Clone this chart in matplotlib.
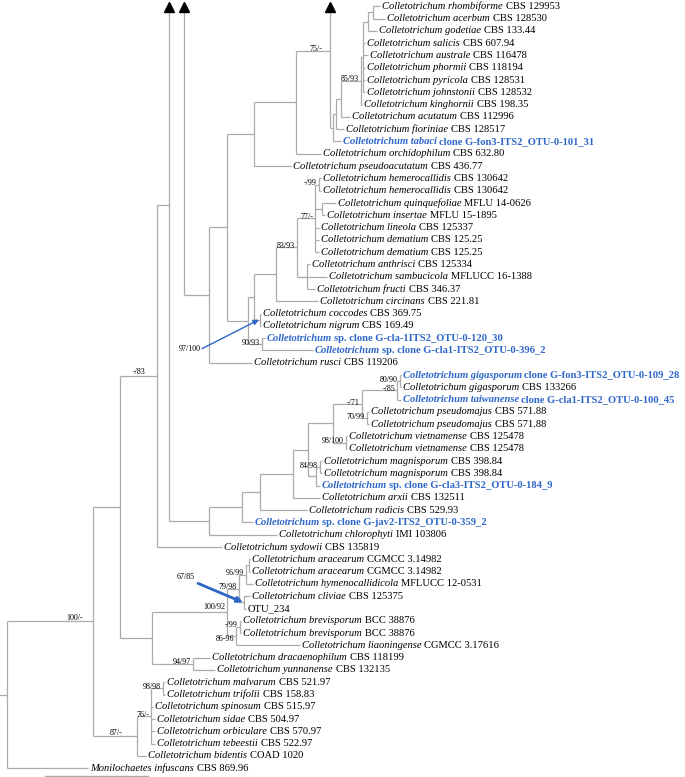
import matplotlib.pyplot as plt

# ---- leaves, top to bottom: name (italic), strain / clone id, kind, tip depth ----
leaf_names = [
    "Colletotrichum rhombiforme", "Colletotrichum acerbum", "Colletotrichum godetiae",
    "Colletotrichum salicis", "Colletotrichum australe", "Colletotrichum phormii",
    "Colletotrichum pyricola", "Colletotrichum johnstonii", "Colletotrichum kinghornii",
    "Colletotrichum acutatum", "Colletotrichum fioriniae", "Colletotrichum tabaci",
    "Colletotrichum orchidophilum", "Colletotrichum pseudoacutatum",
    "Colletotrichum hemerocallidis", "Colletotrichum hemerocallidis",
    "Colletotrichum quinquefoliae", "Colletotrichum insertae", "Colletotrichum lineola",
    "Colletotrichum dematium", "Colletotrichum dematium", "Colletotrichum anthrisci",
    "Colletotrichum sambucicola", "Colletotrichum fructi", "Colletotrichum circinans",
    "Colletotrichum coccodes", "Colletotrichum nigrum", "Colletotrichum",
    "Colletotrichum", "Colletotrichum rusci", "Colletotrichum gigasporum",
    "Colletotrichum gigasporum", "Colletotrichum taiwanense", "Colletotrichum pseudomajus",
    "Colletotrichum pseudomajus", "Colletotrichum vietnamense", "Colletotrichum vietnamense",
    "Colletotrichum magnisporum", "Colletotrichum magnisporum", "Colletotrichum",
    "Colletotrichum arxii", "Colletotrichum radicis", "Colletotrichum",
    "Colletotrichum chlorophyti", "Colletotrichum sydowii", "Colletotrichum aracearum",
    "Colletotrichum aracearum", "Colletotrichum hymenocallidicola", "Colletotrichum cliviae",
    "", "Colletotrichum brevisporum", "Colletotrichum brevisporum",
    "Colletotrichum liaoningense", "Colletotrichum dracaenophilum",
    "Colletotrichum yunnanense", "Colletotrichum malvarum", "Colletotrichum trifolii",
    "Colletotrichum spinosum", "Colletotrichum sidae", "Colletotrichum orbiculare",
    "Colletotrichum tebeestii", "Colletotrichum bidentis", "Monilochaetes infuscans",
]
leaf_strains = [
    "CBS 129953", "CBS 128530", "CBS 133.44", "CBS 607.94", "CBS 116478", "CBS 118194",
    "CBS 128531", "CBS 128532", "CBS 198.35", "CBS 112996", "CBS 128517",
    "clone G-fon3-ITS2_OTU-0-101_31", "CBS 632.80", "CBS 436.77", "CBS 130642",
    "CBS 130642", "MFLU 14-0626", "MFLU 15-1895", "CBS 125337", "CBS 125.25", "CBS 125.25",
    "CBS 125334", "MFLUCC 16-1388", "CBS 346.37", "CBS 221.81", "CBS 369.75", "CBS 169.49",
    "sp. clone G-cla-1ITS2_OTU-0-120_30", "sp. clone G-cla1-ITS2_OTU-0-396_2",
    "CBS 119206", "clone G-fon3-ITS2_OTU-0-109_28", "CBS 133266",
    "clone G-cla1-ITS2_OTU-0-100_45", "CBS 571.88", "CBS 571.88", "CBS 125478",
    "CBS 125478", "CBS 398.84", "CBS 398.84", "sp. clone G-cla3-ITS2_OTU-0-184_9",
    "CBS 132511", "CBS 529.93", "sp. clone G-jav2-ITS2_OTU-0-359_2", "IMI 103806",
    "CBS 135819", "CGMCC 3.14982", "CGMCC 3.14982", "MFLUCC 12-0531", "CBS 125375",
    "OTU_234", "BCC 38876", "BCC 38876", "CGMCC 3.17616", "CBS 118199", "CBS 132135",
    "CBS 521.97", "CBS 158.83", "CBS 515.97", "CBS 504.97", "CBS 570.97", "CBS 522.97",
    "COAD 1020", "CBS 869.96",
]
clone_leaves = [11, 27, 28, 30, 32, 39, 42]
leaf_depth = [
    380, 385, 377, 365, 368, 365, 365, 365, 362, 350, 344, 341, 321, 291,
    321, 321, 336, 325, 319, 319, 319, 310, 327, 315, 318,
    261, 261, 265, 313, 252,
    401, 401, 401, 369, 369, 347, 347, 322, 322, 320, 320, 307, 253, 277, 222,
    250, 250, 253, 250, 246, 241, 241, 300, 210, 215,
    165, 165, 153, 155, 155, 155, 146, 88,
]

# ---- internal nodes: name, depth, children (int = leaf, str = node, 'hidden' = cut off above) ----
node_names = ["RA", "G", "P", "N85", "NAC", "NFI", "NTA", "N330", "N75", "N254a",
              "HH", "QI", "P77", "AS", "N297", "N276", "CN", "N254b", "CL", "N248",
              "N227", "N209", "N184", "G1", "G2", "PM", "G3", "VP", "G4", "MP", "M2",
              "G5", "G6", "G7", "G8", "G9", "N169", "N157", "AR", "AR2", "CO", "N79",
              "BR", "N86", "N100", "N94", "N152", "N120", "ML", "N76", "N87", "N93",
              "ROOT"]
node_depth = [373, 368, 363, 361, 341, 336, 333, 330, 296, 254,
              319, 322, 315, 307, 297, 276, 260, 254, 262, 248,
              227, 209, 184, 400, 397, 367, 362, 346, 333, 320, 316,
              308, 293, 260, 242, 209, 169, 157, 249, 246, 244, 239,
              240, 236, 227, 193, 152, 120, 163, 151, 137, 93, 7]
node_children = [
    [0, 1], ["RA", 2], ["G", 3, 4, 5, 6, 7], ["P", 8], ["N85", 9], ["NAC", 10],
    ["NFI", 11], ["hidden", "NTA"], ["N330", 12], ["N75", 13],
    [14, 15], [16, 17], ["HH", "QI", 18, 19, 20], [21, 22, 23], ["P77", "AS"],
    ["N297", 24], [25, 26], ["N276", "CN"], [27, 28], ["N254b", "CL"],
    ["N254a", "N248"], ["N227", 29], ["hidden", "N209"],
    [30, 31], ["G1", 32], [33, 34], ["G2", "PM"], [35, 36], ["G3", "VP"], [37, 38],
    ["MP", 39], ["G4", "M2"], ["G5", 40], ["G6", 41], ["G7", 42], ["G8", 43],
    ["hidden", "G9"], ["N169", 44], [45, 46], ["AR", 47], [48, 49], ["AR2", "CO"],
    [50, 51], ["BR", 52], ["N79", "N86"], [53, 54], ["N100", "N94"], ["N157", "N152"],
    [55, 56], ["ML", 57, 58, 59, 60], ["N76", 61], ["N120", "N87"], ["N93", 62],
]
# row index of the cut-off branch leaving the top of the picture
hidden_row = {"N330": -2.6, "N184": -20, "N169": -9.6}

support_nodes = ["N330", "N85", "HH", "P77", "N297", "CL", "N157", "G1", "G2", "G3",
                 "PM", "VP", "MP", "AR2", "N79", "N100", "BR", "N86", "N94", "ML",
                 "N76", "N87", "N93"]
support_text = ["75/-", "85/93", "-/99", "77/-", "83/93", "90/93", "-/83", "80/90",
                "-/85", "-/71", "70/99", "98/100", "84/98", "96/99", "79/98", "100/92",
                "-/99", "86-96", "94/97", "98/98", "76/-", "87/-", "100/-"]
arrow_nodes = ["CN", "CO"]
arrow_text = ["97/100", "67/85"]

# ---- layout ----
ROW0, ROW_STEP = 6.3, 12.29
TOP = 3
GREY = "#ababab"
BLUE = "#2f66c9"
FONT = "Liberation Serif"
FS = 7.6
FS_SUP = 5.8
# labels on long branches sit a bit back from the node
sup_shift = {"N330": (-6, -1), "N157": (-10, -2), "N87": (-12, -2), "N93": (-8, -2),
             "N100": (0, -4), "N86": (0, 4)}

leaf_y = [ROW0 + i * ROW_STEP for i in range(len(leaf_names))]
depth = dict(zip(node_names, node_depth))
kids = dict(zip(node_names, node_children))
ypos = {}


def get_y(c):
    if isinstance(c, int):
        return leaf_y[c]
    if c in ypos:
        return ypos[c]
    ys = []
    for k in kids[c]:
        if k == "hidden":
            ys.append(ROW0 + hidden_row[c] * ROW_STEP)
        else:
            ys.append(get_y(k))
    ypos[c] = (ys[0] + ys[-1]) / 2
    return ypos[c]


def get_x(c):
    return leaf_depth[c] if isinstance(c, int) else depth[c]


fig = plt.figure(figsize=(6.85, 7.77), dpi=100)
ax = fig.add_axes([0, 0, 1, 1])
ax.set_xlim(0, 685)
ax.set_ylim(777, 0)
ax.axis("off")

for n in node_names:
    x = depth[n]
    ys = []
    for k in kids[n]:
        if k == "hidden":
            ys.append(ROW0 + hidden_row[n] * ROW_STEP)
            continue
        cy = get_y(k)
        ys.append(cy)
        ax.plot([x, get_x(k)], [cy, cy], color=GREY, lw=0.9, solid_capstyle="butt")
    y_lo = max(min(ys), TOP)
    ax.plot([x, x], [y_lo, max(ys)], color=GREY, lw=0.9, solid_capstyle="butt")
    if n in hidden_row:
        ax.plot([x], [TOP + 4], marker="^", color="black", markersize=6.5, mec="black")

# root stub
ax.plot([0, depth["ROOT"]], [get_y("ROOT")] * 2, color=GREY, lw=0.9)

# leaf labels
for i, name in enumerate(leaf_names):
    x0 = leaf_depth[i] + 2
    y = leaf_y[i]
    bold = i in clone_leaves
    col = BLUE if bold else "black"
    w = "bold" if bold else "normal"
    if name == "":
        ax.text(x0, y, leaf_strains[i], fontsize=FS, family=FONT, va="center",
                color=col)
        continue
    t1 = ax.text(x0, y, name, fontsize=FS, family=FONT, style="italic",
                 weight=w, color=col, va="center")
    ax.annotate(leaf_strains[i], xy=(1, 0), xycoords=t1, xytext=(3 if not bold else 2, 0),
                textcoords="offset pixels", va="bottom", ha="left",
                fontsize=FS, family=FONT, weight=w, color=col)

# support values
for n, s in zip(support_nodes, support_text):
    sx, sy = sup_shift.get(n, (0, 0))
    ax.text(depth[n] - 2 + sx, get_y(n) + 0.5 + sy, s, fontsize=FS_SUP, family=FONT,
            ha="right", va="baseline")

# support values pointed at their node with a blue arrow
arrow_offset = {"CN": (-58, 29), "CO": (-46, -19)}
label_offset = {"CN": (-1, 2), "CO": (-3, -4)}
arrow_lw = {"CN": 1.0, "CO": 2.0}
for n, s in zip(arrow_nodes, arrow_text):
    nx, ny = depth[n], get_y(n)
    dx, dy = arrow_offset[n]
    ax.annotate("", xy=(nx - 1, ny), xytext=(nx + dx, ny + dy),
                arrowprops=dict(arrowstyle="-|>", color=BLUE, lw=arrow_lw[n],
                                shrinkA=0, shrinkB=0, mutation_scale=8))
    lx, ly = label_offset[n]
    ax.text(nx + dx + lx, ny + dy + ly, s, fontsize=FS_SUP, family=FONT,
            ha="right", va="baseline")

# scale bar
ax.plot([45, 148], [776, 776], color=GREY, lw=1.0)

fig.savefig("out.png", dpi=100)
